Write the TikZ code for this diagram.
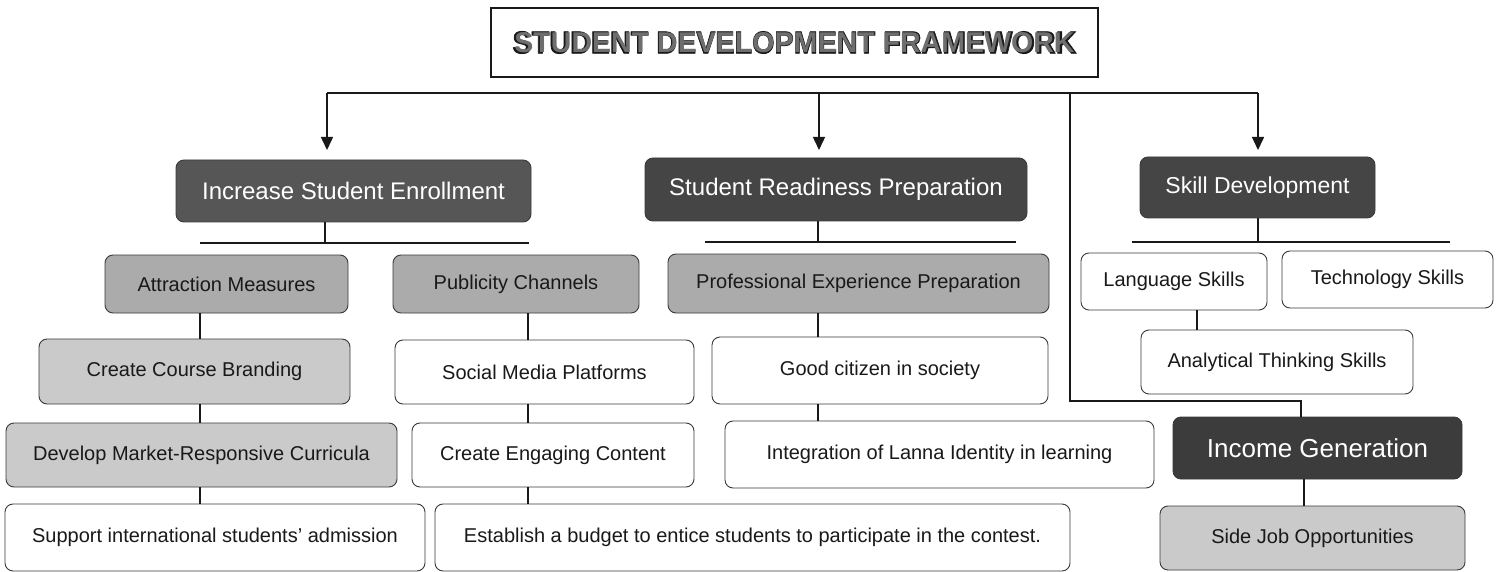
\documentclass[tikz,border=0pt]{standalone}
\usepackage{fontspec}
\usepackage{graphicx}
\setmainfont{Liberation Sans}
\newfontfamily\titleheavy[FakeBold=2.5]{Liberation Sans Bold}
\usetikzlibrary{arrows.meta,calc}
\definecolor{darkA}{HTML}{565656}
\definecolor{darkB}{HTML}{454545}
\definecolor{darkC}{HTML}{3C3C3C}
\definecolor{midgray}{HTML}{ABABAB}
\definecolor{lightgray}{HTML}{CACACA}
\definecolor{edge}{HTML}{3A3A3A}
\definecolor{titlein}{HTML}{6E6E6E}
\begin{document}
\begin{tikzpicture}[x=1pt,y=-1pt,
  box/.style={rounded corners=8pt, draw=edge, line width=0.9pt, align=center, inner sep=0pt,
              font=\fontsize{20}{24}\selectfont, text=black!90},
  darkbox/.style={box, text=white, font=\fontsize{24}{28}\selectfont},
  midbox/.style={box, fill=midgray},
  lightbox/.style={box, fill=lightgray},
  plainbox/.style={box, fill=white},
  conn/.style={line width=1.5pt, black!90},
  arr/.style={conn, -{Triangle[width=12pt,length=13pt]}}
]
\useasboundingbox (0,0) rectangle (1499,572);
\fill[white] (0,0) rectangle (1499,572);

% title
\node[draw=black!90, line width=1.3pt, minimum width=607, minimum height=69, inner sep=0pt] (title) at (794.5,42.5) {};
\node[inner sep=0pt, text=black!90] (titleouter) at (title.center)
  {\resizebox{564pt}{22pt}{\titleheavy STUDENT DEVELOPMENT FRAMEWORK}};
\node[inner sep=0pt, text=titlein] (titletext) at (title.center)
  {\resizebox{560pt}{20pt}{\bfseries STUDENT DEVELOPMENT FRAMEWORK}};

% level 1
\node[darkbox, fill=darkA, minimum width=355, minimum height=62] (inc) at (353.5,191) {Increase Student Enrollment};
\node[darkbox, fill=darkB, minimum width=382, minimum height=63] (srp) at (836,189.5) {Student Readiness Preparation};
\node[darkbox, fill=darkB, minimum width=235, minimum height=61, font=\fontsize{23}{27}\selectfont] (sd) at (1257.5,187.5) {Skill Development};

% level 2
\node[midbox, minimum width=243, minimum height=58] (am) at (226.5,284) {Attraction Measures};
\node[midbox, minimum width=246, minimum height=58] (pc) at (516,284) {Publicity Channels};
\node[midbox, minimum width=381, minimum height=59] (pep) at (858.5,283.5) {Professional Experience Preparation};
\node[plainbox, minimum width=186, minimum height=57] (ls) at (1174,281.5) {Language Skills};
\node[plainbox, minimum width=211, minimum height=57] (ts) at (1387.5,279.5) {Technology Skills};

% level 3
\node[lightbox, minimum width=311, minimum height=65] (ccb) at (194.5,371.5) {Create Course Branding};
\node[plainbox, minimum width=299, minimum height=64] (smp) at (544.5,372) {Social Media Platforms};
\node[plainbox, minimum width=336, minimum height=67] (gc) at (880,370.5) {Good citizen in society};
\node[plainbox, minimum width=272, minimum height=64] (ats) at (1277,362) {Analytical Thinking Skills};

% level 4
\node[lightbox, minimum width=391, minimum height=64] (dmr) at (201.5,455) {Develop Market-Responsive Curricula};
\node[plainbox, minimum width=282, minimum height=64] (cec) at (553,455) {Create Engaging Content};
\node[plainbox, minimum width=429, minimum height=67] (ili) at (939.5,454.5) {Integration of Lanna Identity in learning};
\node[darkbox, fill=darkC, minimum width=289, minimum height=62, font=\fontsize{26}{30}\selectfont] (ig) at (1317.5,448) {Income Generation};

% level 5
\node[plainbox, minimum width=420, minimum height=67] (sia) at (215,537.5) {Support international students' admission};
\node[plainbox, minimum width=635, minimum height=67] (eb) at (752.5,537.5) {Establish a budget to entice students to participate in the contest.};
\node[lightbox, minimum width=305, minimum height=64] (sjo) at (1312.5,538) {Side Job Opportunities};

% bus from title
\coordinate (busL) at (327,93);
\coordinate (busM) at (1070,93);
\coordinate (busS) at (819,93);
\coordinate (busR) at (1258,93);
\coordinate (t1) at (327,150);
\coordinate (t2) at (819,150);
\coordinate (t3) at (1258,150);
\coordinate (igc) at (1301,401);
\draw[conn] (busL) -- (busR);
\draw[arr] (busL) -- (t1);
\draw[arr] (busS) -- (t2);
\draw[arr] (busR) -- (t3);
\draw[conn] (busM) |- (igc) -- (ig.north -| igc);

% bars under level 1
\coordinate (b1l) at (200,243); \coordinate (b1r) at (529,243); \coordinate (b1m) at (325,243);
\coordinate (b2l) at (705,242); \coordinate (b2r) at (1016,242); \coordinate (b2m) at (818,242);
\coordinate (b3l) at (1132,242); \coordinate (b3r) at (1450,242); \coordinate (b3m) at (1258,242);
\draw[conn] (inc.south -| b1m) -- (b1m);
\draw[conn] (b1l) -- (b1r);
\draw[conn] (srp.south -| b2m) -- (b2m);
\draw[conn] (b2l) -- (b2r);
\draw[conn] (sd.south -| b3m) -- (b3m);
\draw[conn] (b3l) -- (b3r);

% vertical chains
\coordinate (v1) at (200,0);
\coordinate (v2) at (528,0);
\coordinate (v3) at (818,0);
\coordinate (v4) at (1197,0);
\coordinate (v5) at (1304,0);
\draw[conn] (am.south -| v1) -- (ccb.north -| v1);
\draw[conn] (ccb.south -| v1) -- (dmr.north -| v1);
\draw[conn] (dmr.south -| v1) -- (sia.north -| v1);
\draw[conn] (pc.south -| v2) -- (smp.north -| v2);
\draw[conn] (smp.south -| v2) -- (cec.north -| v2);
\draw[conn] (cec.south -| v2) -- (eb.north -| v2);
\draw[conn] (pep.south -| v3) -- (gc.north -| v3);
\draw[conn] (gc.south -| v3) -- (ili.north -| v3);
\draw[conn] (ls.south -| v4) -- (ats.north -| v4);
\draw[conn] (ig.south -| v5) -- (sjo.north -| v5);
\end{tikzpicture}
\end{document}
